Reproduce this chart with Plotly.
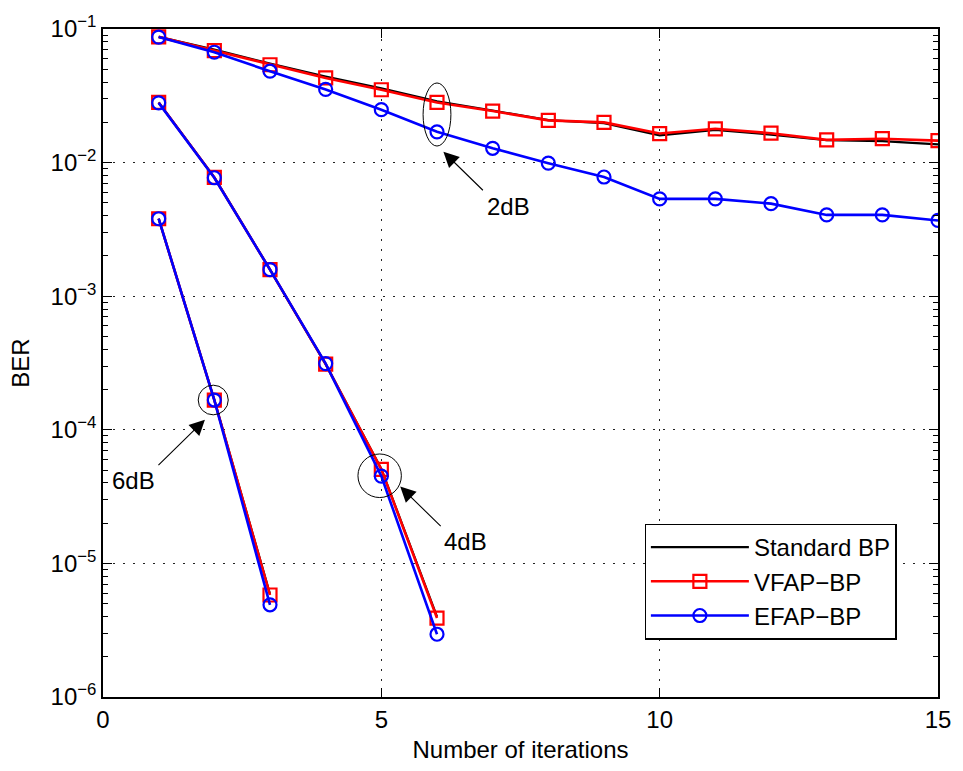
import plotly.graph_objects as go

iterations_2db = list(range(1, 16))
std_2db  = [0.0873, 0.0700, 0.0550, 0.0440, 0.0360, 0.0287, 0.0245, 0.0208, 0.0197, 0.0160, 0.0176, 0.0162, 0.0147, 0.0145, 0.0137]
vfap_2db = [0.0873, 0.0690, 0.0540, 0.0430, 0.0351, 0.0282, 0.0243, 0.0207, 0.0200, 0.0165, 0.0179, 0.0166, 0.0148, 0.0151, 0.0146]
efap_2db = [0.0870, 0.0670, 0.0483, 0.0353, 0.0249, 0.0170, 0.0128, 0.0099, 0.0078, 0.00535, 0.00535, 0.00493, 0.00406, 0.00406, 0.00369]

iterations_4db = [1, 2, 3, 4, 5, 6]
std_4db  = [0.0282, 0.00774, 0.00158, 3.1e-4, 5.1e-5, 4.0e-6]
vfap_4db = [0.0282, 0.00774, 0.00158, 3.1e-4, 5.06e-5, 3.9e-6]
efap_4db = [0.0280, 0.00770, 0.00158, 3.13e-4, 4.5e-5, 2.95e-6]

iterations_6db = [1, 2, 3]
std_6db  = [0.0038, 1.67e-4, 5.9e-6]
vfap_6db = [0.0038, 1.67e-4, 5.8e-6]
efap_6db = [0.0038, 1.67e-4, 4.9e-6]

series_names = ["Standard BP", "VFAP\u2212BP", "EFAP\u2212BP"]
x_ticks = [0, 5, 10, 15]
y_exponents = [-6, -5, -4, -3, -2, -1]

FONT = "Liberation Sans, Arial, Helvetica, sans-serif"
colors = ["black", "#ff0000", "#0000ff"]
symbols = [None, "square-open", "circle-open"]

fig = go.Figure()
groups = [
    (iterations_2db, [std_2db, vfap_2db, efap_2db]),
    (iterations_4db, [std_4db, vfap_4db, efap_4db]),
    (iterations_6db, [std_6db, vfap_6db, efap_6db]),
]
for m in range(3):
    for gi, (xs, ys) in enumerate(groups):
        if symbols[m] is None:
            mode = "lines"
            marker = None
        else:
            mode = "lines+markers"
            marker = dict(symbol=symbols[m], size=13, color=colors[m], line=dict(width=2.2, color=colors[m]))
        fig.add_trace(go.Scatter(
            x=xs, y=ys[m], mode=mode, name=series_names[m],
            line=dict(color=colors[m], width=2.6 if m else 2.2),
            marker=marker, legendgroup=series_names[m], showlegend=(gi == 0),
        ))

# highlight ellipses: centre (x, log10 y), half-width in x units, half-height in decades
ellipses = [
    (6.0, -1.640, 0.25, 0.236),
    (1.98, -3.777, 0.27, 0.111),
    (4.97, -4.344, 0.39, 0.163),
]
for cx, cly, hx, hly in ellipses:
    fig.add_shape(type="circle", xref="x", yref="y",
                  x0=cx - hx, x1=cx + hx,
                  y0=10 ** (cly - hly), y1=10 ** (cly + hly),
                  line=dict(color="black", width=1))

# arrows (head in data coords with log10 y; tail offset in px)
arrows = [
    (6.115, -1.9185, 41, 40),
    (1.831, -3.924, -48, 47),
    (5.339, -4.425, 42, 41),
]
for hx, hy, ax, ay in arrows:
    fig.add_annotation(x=hx, y=hy, xref="x", yref="y", ax=ax, ay=ay,
                       showarrow=True, arrowhead=2, arrowsize=2.8, arrowwidth=1.1,
                       arrowcolor="black", text="", standoff=0)

labels = [
    ("2dB", 7.277, -2.331),
    ("6dB", 0.556, -4.383),
    ("4dB", 6.512, -4.835),
]
for t, lx, ly in labels:
    fig.add_annotation(x=lx, y=ly, xref="x", yref="y", text=t, showarrow=False,
                       font=dict(family=FONT, size=24, color="black"),
                       xanchor="center", yanchor="middle")

minor_vals = [k * 10.0 ** e for e in range(-6, -1) for k in range(2, 10)]

fig.update_layout(
    width=963, height=771,
    margin=dict(l=103, r=16, t=24, b=72),
    paper_bgcolor="white", plot_bgcolor="white",
    font=dict(family=FONT, size=24, color="black"),
    showlegend=True,
    legend=dict(x=0.6486, y=0.2594, xanchor="left", yanchor="top",
                bgcolor="white", bordercolor="black", borderwidth=1.3,
                font=dict(family=FONT, size=24, color="black"),
                itemwidth=98, tracegroupgap=0, entrywidth=200, entrywidthmode="pixels"),
    xaxis=dict(
        range=[0, 15], tickmode="array", tickvals=x_ticks,
        ticktext=[str(v) for v in x_ticks],
        ticks="inside", ticklen=9, tickwidth=1.2, tickcolor="black",
        showline=True, linecolor="black", linewidth=1.5, mirror="ticks",
        showgrid=True, gridcolor="#222", gridwidth=1, griddash="2px,8px",
        zeroline=False,
        title=dict(text="Number of iterations", standoff=10, font=dict(size=24)),
        tickfont=dict(size=24),
    ),
    yaxis=dict(
        type="log", range=[-6, -1], tickmode="array",
        tickvals=[10.0 ** e for e in y_exponents],
        ticktext=["10<sup>\u2212%d</sup>" % (-e) for e in y_exponents],
        ticks="inside", ticklen=9, tickwidth=1.2, tickcolor="black",
        showline=True, linecolor="black", linewidth=1.5, mirror="ticks",
        showgrid=True, gridcolor="#222", gridwidth=1, griddash="2px,8px",
        zeroline=False,
        minor=dict(tickmode="array", tickvals=minor_vals, ticks="inside",
                   ticklen=5, tickwidth=1.2, tickcolor="black", showgrid=False),
        title=dict(text="BER", standoff=14, font=dict(size=24)),
        tickfont=dict(size=24),
    ),
)

fig.write_html("out.html")
